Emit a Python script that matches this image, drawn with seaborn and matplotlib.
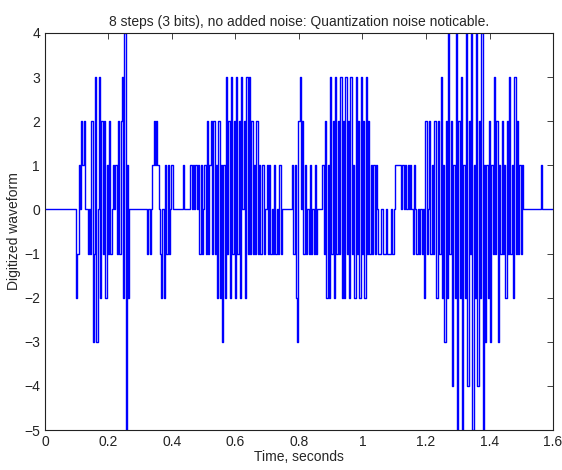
import matplotlib
matplotlib.use('Agg')
import matplotlib.pyplot as plt
import seaborn as sns
import numpy as np

# quantized samples (levels -5..4), one value every 4 ms
dt = 0.004
duration = 1.6

burst_a_start = 0.100
burst_a = [-2, -1, 1, 0, 2, 1, 2, 0, 0, -1, 0, -1, 2, -3, -1, 3, -3, 0, 3, -2,
           2, -1, 2, -2, 1, -1, 2, -1, 0, 1, 0, 1, -1, 2, -1, 2, 3, -2, 4, -5,
           1, -2, 0]

burst_b_start = 0.320
burst_b = [0, -1, 0, -1, 0, 1, 2, 1, 2, 1, 0, -1, -2, 0, -2, 1, -1, 1, -1, 0,
           1, 0, 0, 0, 0, 0, 0, 0, 0, 1, 0, 0, 0, 0, 0, 1, 0, 1, 0, 1,
           0, 1, -1, 1, -1, 0, 1, -1, 2, -1, 1, 2, -1, 2, -1, 1, -2, 2, -2, 1,
           -3, 1, -2, 3, -1, 2, -2, 3, -1, 2, -2, 3, -1, 2, -2, 3, 0, 2, -2, 3,
           -1, 3, -1, 2, -1, 1, -1, 2, -1, 1, -1, 1, 1, -1, 0, 1, -1, 1, -1, 0,
           -1, 1, -1, 0, -1, 1, -1, 0]

burst_c_start = 0.776
burst_c = [0, 1, -1, 1, -2, -3, 2, 3, 0, 2, -1, 1, -1, 0, -1, 1, -1, 0, -1, 1,
           -1, 0, 0, 0, 0, 1, -1, 2, -2, 1, -2, 3, -1, 2, -2, 3, -1, 2, -1, 3,
           -2, 2, -2, 3, -1, 2, -2, 3, -1, 1, -2, 3, -1, 2, -2, 3, -1, 2, -2, 3,
           -1, 2, -1, 1, -1, 1, -1, 1, 0, -1, -1, 0, 0, -1, -1, 0, -1, -1, -1, 0,
           -1, 0, 1, 1, 1, 1, 1, 0, 1, 0, 1, 0, 1, 0, 1, 0, -1, 1, 0, -1,
           0, -1, 0, -1, 0, -2, 2, -1, 0, 2, -1, 1, -1, 2, -2, -2, 2, -1, 3, -2,
           1, -3, 2, -2, 4, -1, 2, -4, 1, -2, 4, -5, 2, -2, 3, -5, 1, -2, 4, -4,
           2, -1, 4, -5, 1, -2, 4, -4, 2, -2, 4, -5, 1, -3, 1, -2, 2, -3, 1, -1,
           3, -1, 2, -3, 1, -1, 2, -1, 1, -2, 2, -1, 3, -1, 1, -2, 3, -1, 2, -1,
           1, -1, 1, 0]

spike_start = 1.560
spike = [0, 1, 0]

t = np.arange(0, duration + dt / 2, dt)
wave = np.zeros(len(t))
for start, vals in [(burst_a_start, burst_a), (burst_b_start, burst_b),
                    (burst_c_start, burst_c), (spike_start, spike)]:
    i0 = int(round(start / dt))
    wave[i0:i0 + len(vals)] = vals

sns.set_style('white')
plt.rcParams['font.family'] = ['Liberation Sans', 'DejaVu Sans']

fig = plt.figure(figsize=(5.62, 4.70), dpi=100)
ax = fig.add_axes([0.080, 0.085, 0.904, 0.845])
sns.lineplot(x=t, y=wave, color='#0000ff', linewidth=1.0, sort=False,
             estimator=None, drawstyle='steps-mid', ax=ax)

ax.set_xlim(0, 1.6)
ax.set_ylim(-5, 4)
ax.set_xticks(np.arange(0, 1.61, 0.2))
ax.set_xticklabels(['0', '0.2', '0.4', '0.6', '0.8', '1', '1.2', '1.4', '1.6'])
ax.set_yticks(range(-5, 5))
ax.tick_params(direction='in', length=4, width=0.6, labelsize=10,
               top=True, right=True, colors='#222222')
for s in ax.spines.values():
    s.set_linewidth(0.8)
    s.set_color('#222222')
ax.set_title('8 steps (3 bits), no added noise: Quantization noise noticable.',
             fontsize=10, pad=5)
ax.set_xlabel('Time, seconds', fontsize=10, labelpad=1)
ax.set_ylabel('Digitized waveform', fontsize=10, labelpad=2)

fig.savefig('out.png', dpi=100)
